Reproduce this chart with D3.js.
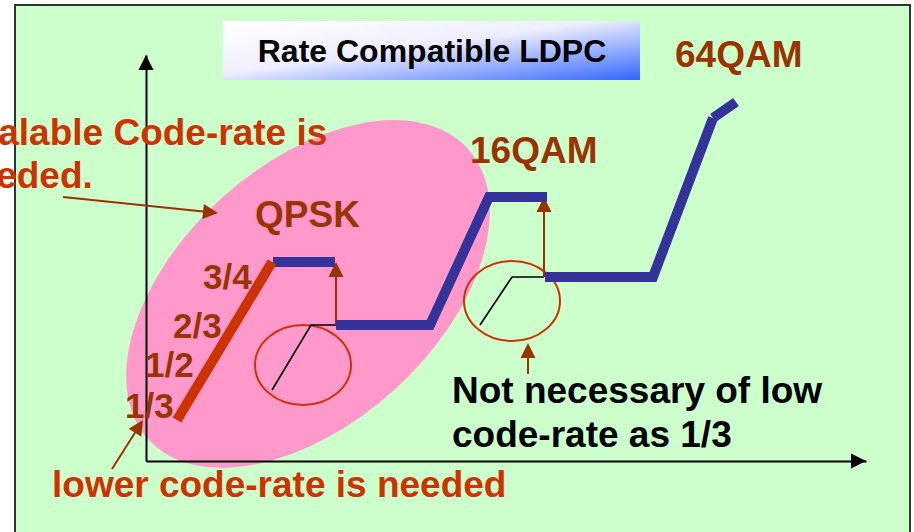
<!DOCTYPE html>
<html>
<head>
<meta charset="utf-8">
<script src="https://cdn.jsdelivr.net/npm/d3@7"></script>
<style>
  body { margin: 0; background: #fff; }
  svg { display: block; font-family: "Liberation Sans", Arial, sans-serif; font-weight: bold; }
</style>
</head>
<body>
<svg id="chart"></svg>
<script>
// all values are in chart units, measured from the axis origin
const qpskStep = [[127, 199], [189, 199]];
const qam16Step = [[190, 136], [284, 136], [343, 264], [401, 264]];
const qam64Step = [[399, 184], [507, 184], [567, 343]];
const qam64Tail = [[567, 343], [590, 359]];
const rateLine = [[31, 41], [126, 199]];

const rateLabels = ["1/3", "1/2", "2/3", "3/4"];
const rateLabelPos = [[-21, 43], [-1, 84], [27, 123], [57, 172]];

const modLabels = ["QPSK", "16QAM", "64QAM"];
const modLabelPos = [[109, 234], [324, 298], [529, 394]];

const blowUps = [[157, 96], [366, 160]];           // small circles (centres)
const blowUpPaths = [
  [[126, 71], [165, 136], [190, 136]],
  [[334, 136], [366, 184], [398, 184]]
];
const arrows = [                                     // [from, to]
  [[190, 136], [190, 199]],
  [[398, 184], [398, 264]],
  [[382, 87], [382, 118]],
  [[-83, 264], [72, 248]],
  [[-34, -8], [-3, 41]]
];

const noteLines = ["Not necessary of low", "code-rate as 1/3"];
const notePos = [[306, 58], [306, 14]];
const scalableLines = ["Scalable Code-rate is", "needed."];
const scalablePos = [[-193, 316], [-193, 273]];
const lowerText = "lower code-rate is needed";
const lowerPos = [-94, -36];
const title = "Rate Compatible LDPC";

const w = 914, h = 532;
const svg = d3.select("#chart").attr("width", w).attr("height", h);

const x = d3.scaleLinear().domain([0, 720]).range([146, 866]);
const y = d3.scaleLinear().domain([0, 406]).range([461, 55]);

const defs = svg.append("defs");
const grad = defs.append("linearGradient")
  .attr("id", "titleGrad")
  .attr("x1", 0).attr("y1", 0).attr("x2", 1).attr("y2", 1);
grad.append("stop").attr("offset", 0).attr("stop-color", "#ffffff");
grad.append("stop").attr("offset", 0.45).attr("stop-color", "#eeeeff");
grad.append("stop").attr("offset", 1).attr("stop-color", "#3366ff");

// slide frame
svg.append("rect")
  .attr("x", 15).attr("y", 5)
  .attr("width", 895).attr("height", 540)
  .attr("fill", "#ccffcc")
  .attr("stroke", "#333")
  .attr("stroke-width", 2);

// title box
svg.append("rect")
  .attr("x", 223).attr("y", 21)
  .attr("width", 417).attr("height", 59)
  .attr("fill", "url(#titleGrad)");
svg.append("text")
  .attr("x", 432).attr("y", 62)
  .attr("text-anchor", "middle")
  .attr("font-size", 32)
  .attr("fill", "#000")
  .text(title);

// big pink ellipse
svg.append("ellipse")
  .attr("cx", x(162)).attr("cy", y(167))
  .attr("rx", x(216) - x(0)).attr("ry", y(0) - y(129))
  .attr("transform", `rotate(-42.3 ${x(162)} ${y(167)})`)
  .attr("fill", "#ff99cc");

// axes
svg.append("g")
  .attr("transform", `translate(0,${y(0)})`)
  .call(d3.axisBottom(x).ticks(0).tickSizeOuter(0));
svg.append("g")
  .attr("transform", `translate(${x(0)},0)`)
  .call(d3.axisLeft(y).ticks(0).tickSizeOuter(0));
svg.selectAll(".domain").attr("stroke", "#000").attr("stroke-width", 2);

function arrowHead(from, to, color, len = 15, half = 7.5) {
  const fx = x(from[0]), fy = y(from[1]);
  const tx = x(to[0]), ty = y(to[1]);
  const a = Math.atan2(ty - fy, tx - fx);
  const bx = tx - len * Math.cos(a), by = ty - len * Math.sin(a);
  const px = -Math.sin(a) * half, py = Math.cos(a) * half;
  svg.append("path")
    .attr("d", `M${tx},${ty}L${bx + px},${by + py}L${bx - px},${by - py}Z`)
    .attr("fill", color);
}
arrowHead([0, 0], [720, 0], "#000");
arrowHead([0, 0], [0, 406], "#000");

// small circles
svg.selectAll(".blowup")
  .data(blowUps)
  .join("ellipse")
  .attr("class", "blowup")
  .attr("cx", d => x(d[0])).attr("cy", d => y(d[1]))
  .attr("rx", x(48) - x(0)).attr("ry", y(0) - y(40))
  .attr("fill", "none")
  .attr("stroke", "#cc3300")
  .attr("stroke-width", 2);

const line = d3.line().x(d => x(d[0])).y(d => y(d[1]));

svg.selectAll(".mini")
  .data(blowUpPaths)
  .join("path")
  .attr("class", "mini")
  .attr("d", line)
  .attr("fill", "none")
  .attr("stroke", "#000")
  .attr("stroke-width", 1.6);

// brown arrows
arrows.forEach(([from, to]) => {
  const a = Math.atan2(y(to[1]) - y(from[1]), x(to[0]) - x(from[0]));
  svg.append("line")
    .attr("x1", x(from[0])).attr("y1", y(from[1]))
    .attr("x2", x(to[0]) - 10 * Math.cos(a)).attr("y2", y(to[1]) - 10 * Math.sin(a))
    .attr("stroke", "#993300")
    .attr("stroke-width", 2);
  arrowHead(from, to, "#993300");
});

// modulation steps
svg.selectAll(".step")
  .data([qpskStep, qam16Step, qam64Step, qam64Tail])
  .join("path")
  .attr("class", "step")
  .attr("d", line)
  .attr("fill", "none")
  .attr("stroke", "#333399")
  .attr("stroke-width", 10)
  .attr("stroke-linejoin", "miter")
  .attr("stroke-linecap", "butt");

svg.append("path")
  .attr("d", line(rateLine))
  .attr("fill", "none")
  .attr("stroke", "#cc3300")
  .attr("stroke-width", 10);

// labels
svg.selectAll(".rate")
  .data(rateLabels)
  .join("text")
  .attr("class", "rate")
  .attr("x", (d, i) => x(rateLabelPos[i][0]))
  .attr("y", (d, i) => y(rateLabelPos[i][1]))
  .attr("font-size", 35)
  .attr("fill", "#993300")
  .text(d => d);

svg.selectAll(".mod")
  .data(modLabels)
  .join("text")
  .attr("class", "mod")
  .attr("x", (d, i) => x(modLabelPos[i][0]))
  .attr("y", (d, i) => y(modLabelPos[i][1]))
  .attr("font-size", 37)
  .attr("fill", "#993300")
  .text(d => d);

svg.selectAll(".note")
  .data(noteLines)
  .join("text")
  .attr("class", "note")
  .attr("x", (d, i) => x(notePos[i][0]))
  .attr("y", (d, i) => y(notePos[i][1]))
  .attr("font-size", 37)
  .attr("fill", "#000")
  .text(d => d);

svg.selectAll(".scalable")
  .data(scalableLines)
  .join("text")
  .attr("class", "scalable")
  .attr("x", (d, i) => x(scalablePos[i][0]))
  .attr("y", (d, i) => y(scalablePos[i][1]))
  .attr("font-size", 37)
  .attr("fill", "#cc3300")
  .text(d => d);

svg.append("text")
  .attr("x", x(lowerPos[0])).attr("y", y(lowerPos[1]))
  .attr("font-size", 37)
  .attr("fill", "#cc3300")
  .text(lowerText);
</script>
</body>
</html>
